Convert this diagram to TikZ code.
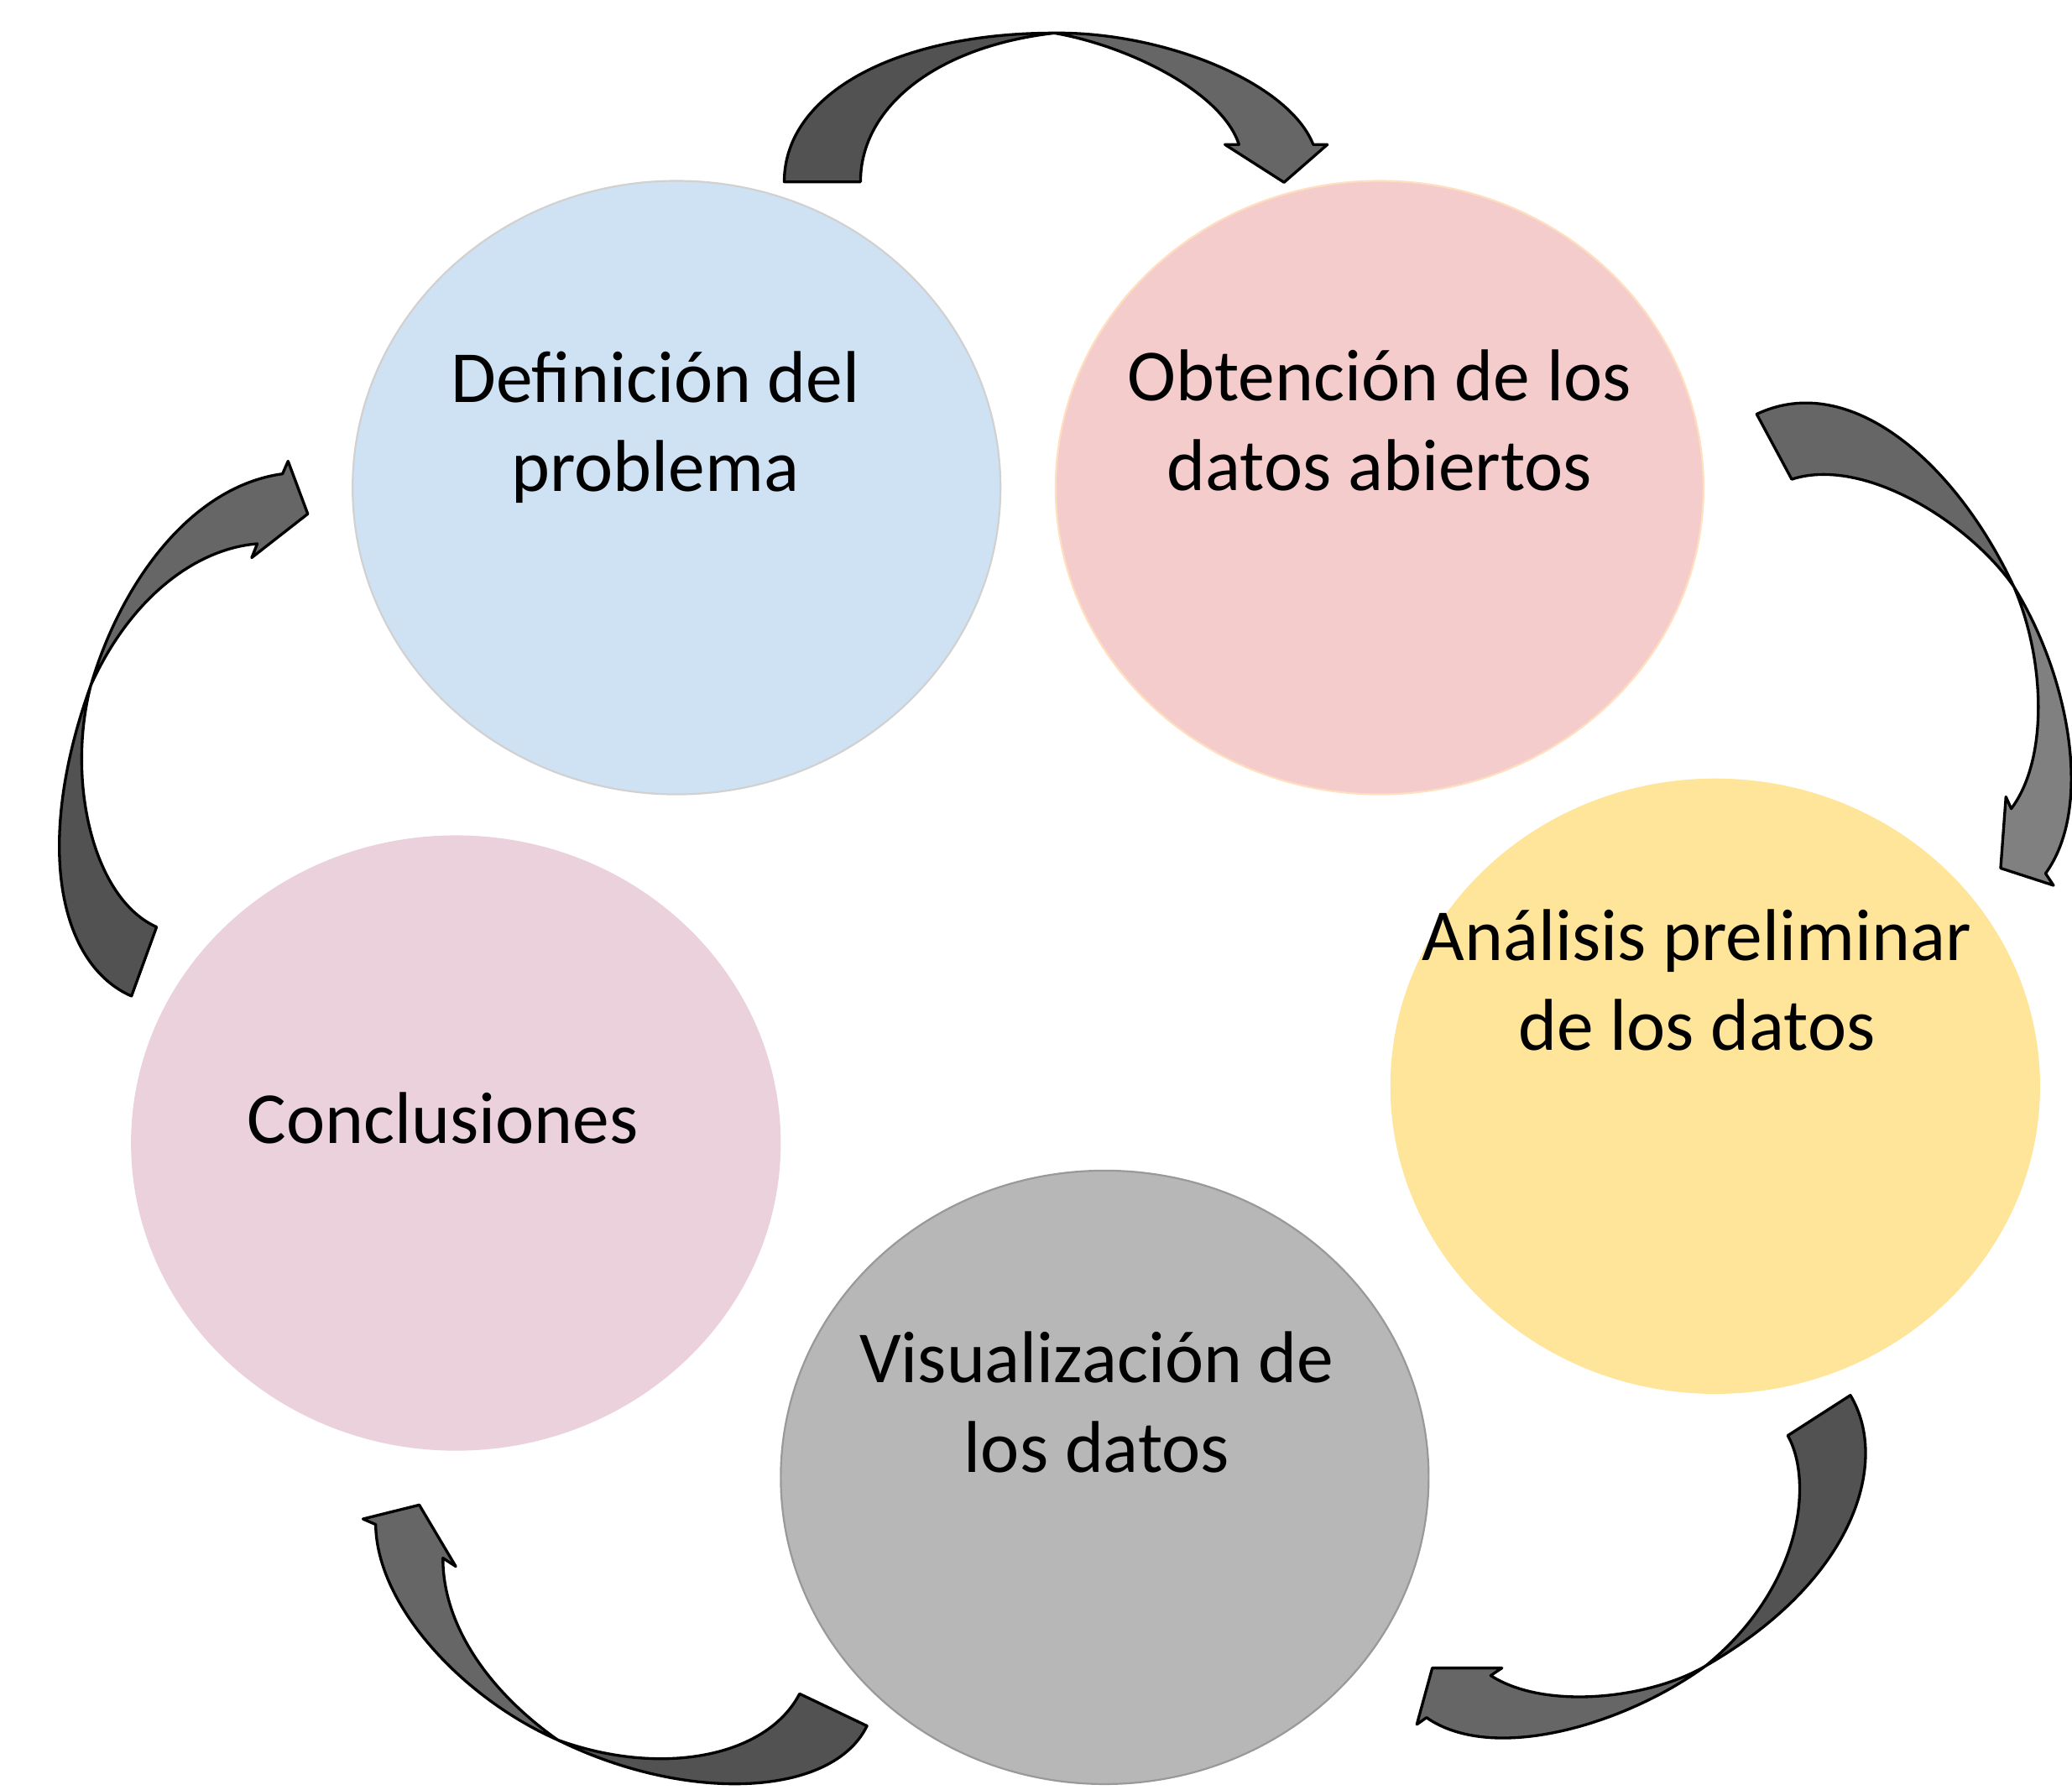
\documentclass[tikz,border=0pt]{standalone}
\usepackage{fontspec}
\setmainfont{Carlito}
\usetikzlibrary{shapes.geometric}

\definecolor{defcolor}{HTML}{CFE2F3}
\definecolor{obtcolor}{HTML}{F4CCCC}
\definecolor{anacolor}{HTML}{FFE599}
\definecolor{viscolor}{HTML}{B7B7B7}
\definecolor{concolor}{HTML}{EAD1DC}
\definecolor{banddark}{HTML}{525252}
\definecolor{bandmid}{HTML}{666666}
\definecolor{bandlight}{HTML}{808080}

\begin{document}
\begin{tikzpicture}[
        x=0.01cm, y=-0.01cm,
        stage/.style={ellipse, line width=0.4pt, minimum width=4.9cm, minimum height=4.64cm, inner sep=0pt},
        stagetext/.style={align=center, anchor=base, inner sep=0pt, font=\fontsize{15.8}{19.2}\selectfont},
        bandpart/.style={draw=black, line width=0.6pt, line join=round, fill=#1}
      ]
      \useasboundingbox (0,0) rectangle (1568,1354);

      % stages
      \node[stage, fill=defcolor, draw=black!18] (def) at (512,369) {};
      \node[stage, fill=obtcolor, draw=orange!25] (obt) at (1044,369) {};
      \node[stage, fill=anacolor, draw=anacolor] (ana) at (1298,822) {};
      \node[stage, fill=viscolor, draw=black!40] (vis) at (836,1118) {};
      \node[stage, fill=concolor, draw=concolor] (con) at (345,865) {};

      \node[stagetext] (deftext) at (496,372) {Definición del\\problema};
      \node[stagetext] (obttext) at (1044,371) {Obtención de los\\datos abiertos};
      \node[stagetext] (anatext) at (1284,794.5) {Análisis preliminar\\de los datos};
      \node[stagetext] (vistext) at (830,1114) {Visualización de\\los datos};
      \node[stagetext] (context) at (335,865) {Conclusiones};

      % curved arrows
      \filldraw[bandpart=banddark] (593.5,137.6) .. controls (593.5,70) and (680,25) .. (797.9,25)
          .. controls (710,35) and (651.2,80) .. (651.2,137.6) -- cycle;
      \filldraw[bandpart=bandmid] (797.9,25) .. controls (880,24) and (975,62) .. (993.8,109.4)
          -- (1004.5,109.4) -- (971.7,138) -- (927,109.4) -- (937.6,109.4)
          .. controls (925,70) and (855,35) .. (797.9,25) -- cycle;

      \filldraw[bandpart=bandmid] (1329.4,313.4) .. controls (1400,280) and (1480,350) .. (1524,444)
          .. controls (1490,395) and (1410,345) .. (1355.9,362.7) -- cycle;
      \filldraw[bandpart=bandlight] (1524,444) .. controls (1548,500) and (1550,575) .. (1522,612)
          -- (1518,603) -- (1514,657) -- (1554,670) -- (1548,661)
          .. controls (1585,610) and (1565,510) .. (1524,444) -- cycle;

      \filldraw[bandpart=banddark] (1400.3,1055.9) .. controls (1430,1105) and (1405,1195) .. (1290.9,1260.6)
          .. controls (1365,1200) and (1372,1120) .. (1352.9,1086.4) -- cycle;
      \filldraw[bandpart=bandmid] (1290.9,1260.6) .. controls (1230,1305) and (1130,1335) .. (1079.5,1299.8)
          -- (1072.2,1305) -- (1083.9,1262.3) -- (1136.6,1262.3) -- (1128.1,1268)
          .. controls (1170,1295) and (1250,1285) .. (1290.9,1260.6) -- cycle;

      \filldraw[bandpart=banddark] (656.1,1306.1) .. controls (630,1360) and (520,1365) .. (422,1316.7)
          .. controls (500,1345) and (580,1330) .. (605.1,1281.8) -- cycle;
      \filldraw[bandpart=bandmid] (422,1316.7) .. controls (350,1285) and (285,1215) .. (284.3,1153.7)
          -- (274.7,1149.5) -- (317.3,1138.9) -- (344.9,1185.4) -- (335.2,1179.1)
          .. controls (335,1230) and (370,1280) .. (422,1316.7) -- cycle;

      \filldraw[bandpart=banddark] (99.5,753.8) .. controls (45,730) and (25,640) .. (68.8,518.4)
          .. controls (50,590) and (70,680) .. (118.5,701.5) -- cycle;
      \filldraw[bandpart=bandmid] (68.8,518.4) .. controls (92,440) and (145,368) .. (213.8,358.6)
          -- (218,349) -- (232.9,388.9) -- (190.5,422) -- (194.7,411.5)
          .. controls (150,415) and (100,450) .. (68.8,518.4) -- cycle;

      \end{tikzpicture}
\end{document}
